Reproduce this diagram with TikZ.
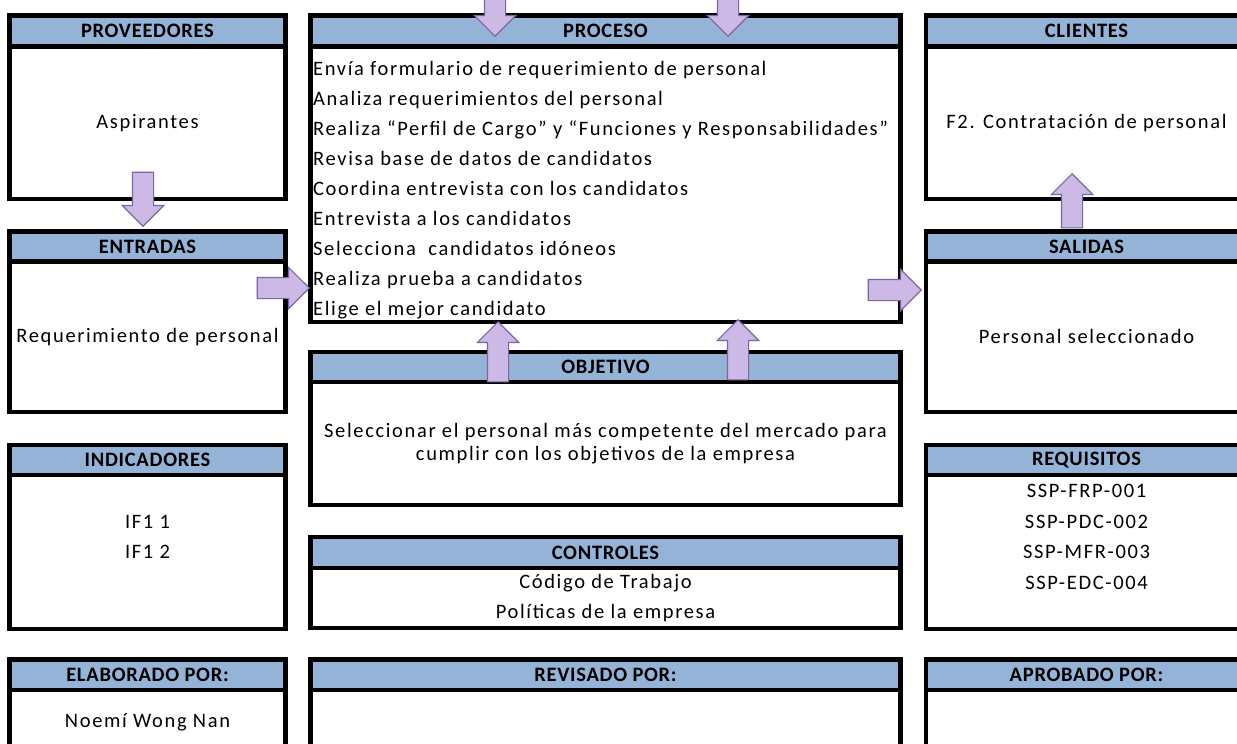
\documentclass[tikz,border=0pt]{standalone}
\usepackage{fontspec}
\setmainfont{Carlito}[LetterSpace=8]
\newfontfamily\headfont{Carlito}[LetterSpace=3.5]
\usetikzlibrary{positioning,shapes.arrows}
\definecolor{hdrblue}{RGB}{149,179,215}
\definecolor{lilac}{RGB}{204,185,230}
\definecolor{plum}{RGB}{128,100,162}
\tikzset{
  hdr/.style={draw, line width=4.5pt, fill=hdrblue, outer sep=0pt, inner sep=0pt, anchor=north west, font=\headfont\fontsize{20.5}{24}\selectfont\bfseries},
  cell/.style={draw, line width=4.5pt, outer sep=0pt, inner sep=0pt, align=center, font=\fontsize{20.5}{30}\selectfont},
  txt/.style={inner sep=0pt, align=center, font=\fontsize{20.5}{30}\selectfont},
  barrow/.style={single arrow, draw=plum, fill=lilac, line width=1.2pt, text height=0pt, text depth=0pt, inner xsep=0pt, inner ysep=10pt, single arrow head extend=10pt, minimum width=0pt, anchor=tip}
}

\begin{document}
\begin{tikzpicture}[x=1pt, y=-1pt]
\useasboundingbox[fill=white] (0,0) rectangle (1237,744);
% left column
\node[hdr, minimum width=276pt, minimum height=31pt] (provH) at (9.5,15.5) {PROVEEDORES};
\node[cell, below=0pt of provH, minimum width=276pt, minimum height=152.5pt] (prov) {Aspirantes};
\node[hdr, minimum width=276pt, minimum height=30pt] (entH) at (9.5,231.5) {ENTRADAS};
\node[cell, below=0pt of entH, minimum width=276pt, minimum height=150.5pt] (ent) {Requerimiento de personal};
\node[hdr, minimum width=276pt, minimum height=30pt] (indH) at (9.5,445) {INDICADORES};
\node[cell, below=0pt of indH, minimum width=276pt, minimum height=154pt] (ind) {};
\node[txt] (indTxt) at (147.5,537) {IF1 1\\IF1 2};
\node[hdr, minimum width=276pt, minimum height=30.5pt] (elaH) at (9.5,659.5) {ELABORADO POR:};
\node[cell, below=0pt of elaH, minimum width=276pt, minimum height=64pt] (ela) {Noemí Wong Nan};
% middle column
\node[hdr, minimum width=590pt, minimum height=31pt] (proH) at (310.5,15.5) {PROCESO};
\node[cell, below=0pt of proH, minimum width=590pt, minimum height=275.5pt] (pro) {};
\node[txt, align=left, anchor=west] (proTxt) at (313,190) {Envía formulario de requerimiento de personal\\Analiza requerimientos del personal\\Realiza “Perfil de Cargo” y “Funciones y Responsabilidades”\\Revisa base de datos de candidatos\\Coordina entrevista con los candidatos\\Entrevista a los candidatos\\Selecciona\ \ candidatos idóneos\\Realiza prueba a candidatos\\Elige el mejor candidato};
\node[hdr, minimum width=590pt, minimum height=30pt] (objH) at (310.5,352) {OBJETIVO};
\node[cell, below=0pt of objH, minimum width=590pt, minimum height=123pt, font=\fontsize{20.5}{23.3}\selectfont] (obj) {Seleccionar el personal más competente del mercado para\\cumplir con los objetivos de la empresa};
\node[hdr, minimum width=590pt, minimum height=31pt] (conH) at (310.5,537) {CONTROLES};
\node[cell, below=0pt of conH, minimum width=590pt, minimum height=60pt] (con) {Código de Trabajo\\Políticas de la empresa};
\node[hdr, minimum width=590pt, minimum height=30.5pt] (revH) at (310.5,659.5) {REVISADO POR:};
\node[cell, below=0pt of revH, minimum width=590pt, minimum height=64pt] (rev) {};
% right column
\node[hdr, minimum width=321pt, minimum height=31pt] (cliH) at (926,15.5) {CLIENTES};
\node[cell, below=0pt of cliH, minimum width=321pt, minimum height=152.5pt] (cli) {F2. Contratación de personal};
\node[hdr, minimum width=321pt, minimum height=30pt] (salH) at (926,231.5) {SALIDAS};
\node[cell, below=0pt of salH, minimum width=321pt, minimum height=150.5pt] (sal) {Personal seleccionado};
\node[hdr, minimum width=321pt, minimum height=30pt] (reqH) at (926,445) {REQUISITOS};
\node[cell, below=0pt of reqH, minimum width=321pt, minimum height=154pt] (req) {};
\node[txt, font=\fontsize{20.5}{30.7}\selectfont] (reqTxt) at (1086.5,537) {SSP-FRP-001\\SSP-PDC-002\\SSP-MFR-003\\SSP-EDC-004};
\node[hdr, minimum width=321pt, minimum height=30.5pt] (aprH) at (926,659.5) {APROBADO POR:};
\node[cell, below=0pt of aprH, minimum width=321pt, minimum height=64pt] (apr) {};
% block arrows
\node[barrow, rotate=-90, minimum height=54pt] (provEnt) at (143,227) {};
\node[barrow, minimum height=52pt] (entPro) at (310,288) {};
\node[barrow, minimum height=53pt] (proSal) at (922,290) {};
\node[barrow, rotate=90, minimum height=54pt] (salCli) at (1072,173) {};
\node[barrow, rotate=-90, minimum height=56pt] (inA) at (495,37) {};
\node[barrow, rotate=-90, minimum height=56pt] (inB) at (728,37) {};
\node[barrow, rotate=90, minimum height=60pt] (objA) at (498,321) {};
\node[barrow, rotate=90, minimum height=60pt] (objB) at (738,319) {};
\end{tikzpicture}
\end{document}
